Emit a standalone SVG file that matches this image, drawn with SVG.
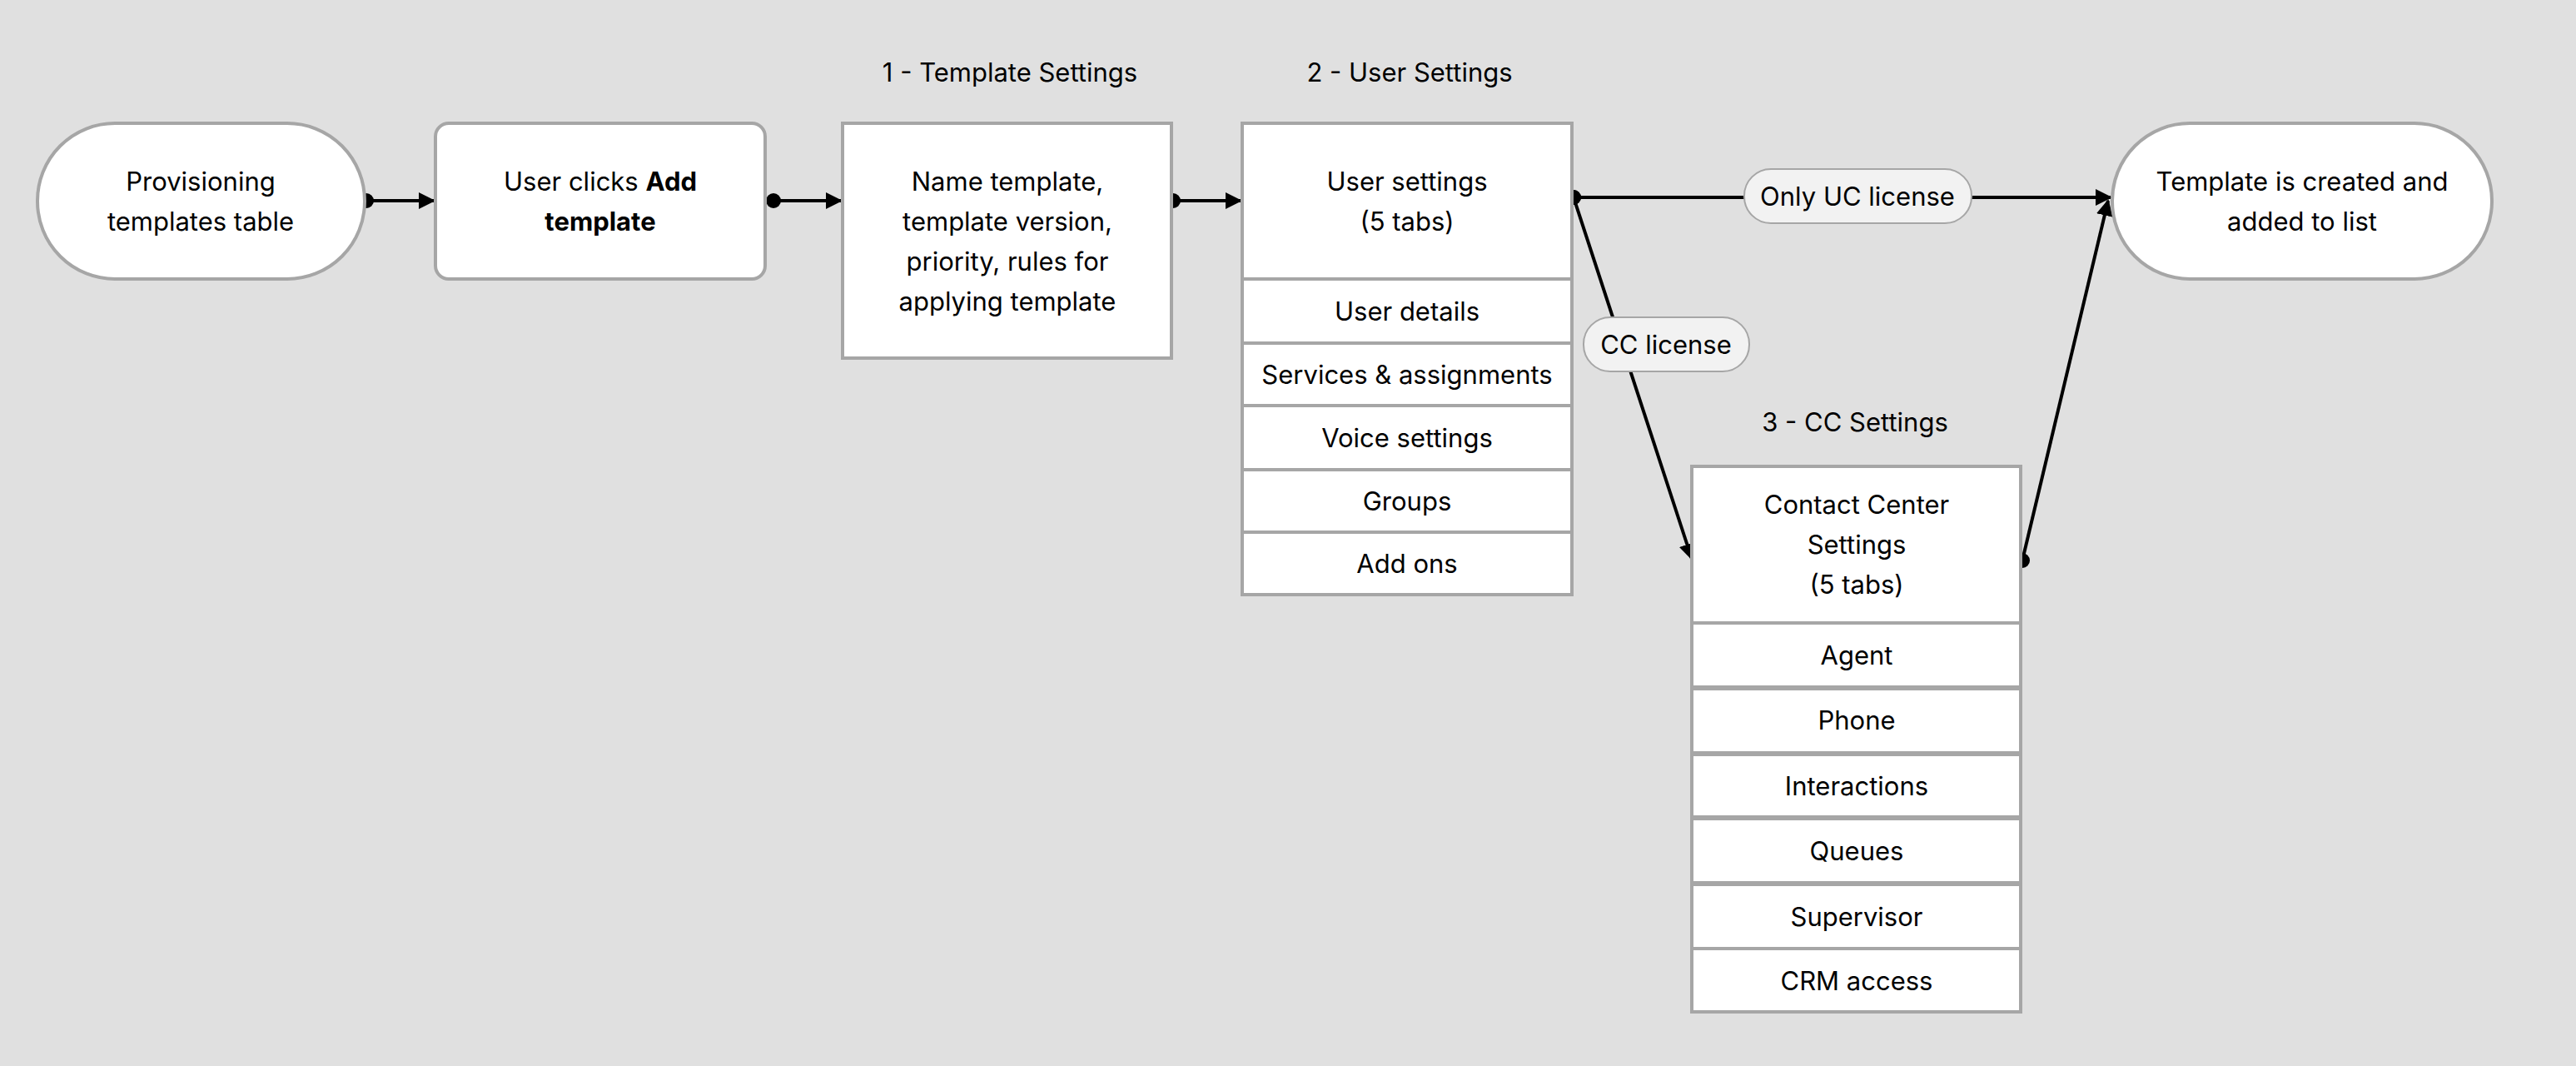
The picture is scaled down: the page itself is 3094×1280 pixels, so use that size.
<svg xmlns="http://www.w3.org/2000/svg" width="3094" height="1280" viewBox="0 0 3094 1280">
<defs>
<marker id="ah" viewBox="0 0 10 10" refX="9" refY="5" markerWidth="5" markerHeight="5" orient="auto" markerUnits="strokeWidth"><path d="M0,0 L10,5 L0,10 z" fill="#000"/></marker>
<marker id="dot" viewBox="0 0 10 10" refX="5" refY="5" markerWidth="5" markerHeight="5" markerUnits="strokeWidth"><circle cx="5" cy="5" r="4.5" fill="#000"/></marker>
</defs>
<style>
.n{fill:#fff;stroke:#a6a6a6;stroke-width:4}
.t{font-family:Inter,"Liberation Sans",sans-serif;font-size:31px;fill:#000;text-anchor:middle}
.c{stroke:#000;stroke-width:4;fill:none;marker-start:url(#dot);marker-end:url(#ah)}
.l{fill:#f2f2f2;stroke:#a6a6a6;stroke-width:2}
</style>
<rect width="3094" height="1280" fill="#e0e0e0"/>
<text class="t" x="1213" y="98">1 - Template Settings</text>
<text class="t" x="1693" y="98">2 - User Settings</text>
<text class="t" x="2228" y="518">3 - CC Settings</text>
<g id="connectors">
<line class="c" x1="440" y1="241" x2="521" y2="241"/>
<line class="c" x1="929" y1="241" x2="1010" y2="241"/>
<line class="c" x1="1409" y1="241" x2="1490" y2="241"/>
<line class="c" x1="1890" y1="237" x2="2535" y2="237"/>
<line class="c" x1="1890" y1="237" x2="2032" y2="671"/>
<line class="c" x1="2429" y1="673" x2="2532" y2="241"/>
</g>
<g id="n1"><rect class="n" x="45" y="148" width="393" height="187" rx="93"/><text class="t" x="241" y="229">Provisioning</text><text class="t" x="241" y="277">templates table</text></g>
<g id="n2"><rect class="n" x="523" y="148" width="396" height="187" rx="16"/><text class="t" x="721" y="229">User clicks <tspan font-weight="bold">Add</tspan></text><text class="t" x="721" y="277" font-weight="bold">template</text></g>
<g id="n3"><rect class="n" x="1012" y="148" width="395" height="282"/><text class="t" x="1210" y="229">Name template,</text><text class="t" x="1210" y="277">template version,</text><text class="t" x="1210" y="325">priority, rules for</text><text class="t" x="1210" y="373">applying template</text></g>
<g id="n4">
<rect class="n" x="1492" y="148" width="396" height="187"/><text class="t" x="1690" y="229">User settings</text><text class="t" x="1690" y="277">(5 tabs)</text>
<rect class="n" x="1492" y="335" width="396" height="77"/><text class="t" x="1690" y="385">User details</text>
<rect class="n" x="1492" y="412" width="396" height="75"/><text class="t" x="1690" y="461">Services &amp; assignments</text>
<rect class="n" x="1492" y="487" width="396" height="77"/><text class="t" x="1690" y="537">Voice settings</text>
<rect class="n" x="1492" y="564" width="396" height="75"/><text class="t" x="1690" y="613">Groups</text>
<rect class="n" x="1492" y="639" width="396" height="75"/><text class="t" x="1690" y="688">Add ons</text>
</g>
<g id="n5"><rect class="n" x="2537" y="148" width="456" height="187" rx="93"/><text class="t" x="2765" y="229">Template is created and</text><text class="t" x="2765" y="277">added to list</text></g>
<g id="n6">
<rect class="n" x="2032" y="560" width="395" height="188"/><text class="t" x="2230" y="617">Contact Center</text><text class="t" x="2230" y="665">Settings</text><text class="t" x="2230" y="713">(5 tabs)</text>
<rect class="n" x="2032" y="748" width="395" height="77"/><text class="t" x="2230" y="798">Agent</text>
<rect class="n" x="2032" y="827" width="395" height="77"/><text class="t" x="2230" y="876">Phone</text>
<rect class="n" x="2032" y="906" width="395" height="75"/><text class="t" x="2230" y="955">Interactions</text>
<rect class="n" x="2032" y="983" width="395" height="77"/><text class="t" x="2230" y="1033">Queues</text>
<rect class="n" x="2032" y="1062" width="395" height="77"/><text class="t" x="2230" y="1112">Supervisor</text>
<rect class="n" x="2032" y="1139" width="395" height="76"/><text class="t" x="2230" y="1189">CRM access</text>
</g>
<g id="lbl1"><rect class="l" x="2095" y="203" width="273" height="65" rx="32"/><text class="t" x="2231" y="247">Only UC license</text></g>
<g id="lbl2"><rect class="l" x="1902" y="381" width="199" height="65" rx="32"/><text class="t" x="2001" y="425">CC license</text></g>
</svg>
